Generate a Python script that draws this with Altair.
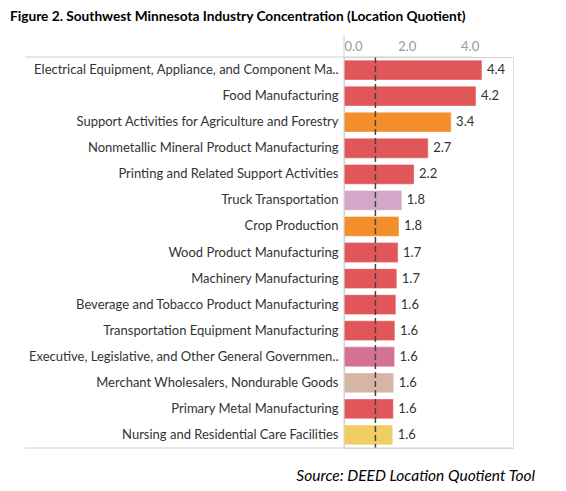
import altair as alt
import pandas as pd

industries = [
    "Electrical Equipment, Appliance, and Component Ma..",
    "Food Manufacturing",
    "Support Activities for Agriculture and Forestry",
    "Nonmetallic Mineral Product Manufacturing",
    "Printing and Related Support Activities",
    "Truck Transportation",
    "Crop Production",
    "Wood Product Manufacturing",
    "Machinery Manufacturing",
    "Beverage and Tobacco Product Manufacturing",
    "Transportation Equipment Manufacturing",
    "Executive, Legislative, and Other General Governmen..",
    "Merchant Wholesalers, Nondurable Goods",
    "Primary Metal Manufacturing",
    "Nursing and Residential Care Facilities",
]
lq = [4.39, 4.20, 3.41, 2.68, 2.23, 1.84, 1.75, 1.72, 1.68, 1.65, 1.62, 1.61, 1.58, 1.57, 1.55]
sector = [
    "Manufacturing", "Manufacturing", "Agriculture", "Manufacturing", "Manufacturing",
    "Transportation", "Agriculture", "Manufacturing", "Manufacturing", "Manufacturing",
    "Manufacturing", "Public Administration", "Wholesale Trade", "Manufacturing", "Health Care",
]
sector_names = ["Manufacturing", "Agriculture", "Transportation", "Public Administration", "Wholesale Trade", "Health Care"]
sector_colors = ["#E15759", "#F28E2B", "#D4A6C8", "#D37295", "#D7B5A6", "#F1CE63"]
reference_lq = [1.0]
source_text = "Source: DEED Location Quotient Tool"

df = pd.DataFrame({"industry": industries, "lq": lq, "sector": sector})
ref = pd.DataFrame({"ref": reference_lq})

W, H = 169, 391
FONT = "Lato"

x_scale = alt.Scale(domain=[0, 5.38], nice=False, zero=True)
y_enc = alt.Y("industry:N", sort=industries, title=None,
              scale=alt.Scale(paddingInner=0.24, paddingOuter=0.12),
              axis=alt.Axis(labelFont=FONT, labelFontSize=13, labelColor="#333333",
                            labelPadding=6, ticks=False, domain=True, domainColor="#D0D0D0",
                            labelLimit=330))

bars = alt.Chart(df).mark_bar(stroke="white", strokeOpacity=0.35, strokeWidth=1).encode(
    x=alt.X("lq:Q", scale=x_scale, title=None,
            axis=alt.Axis(orient="top", values=[0, 2, 4], format=".1f", labelFont=FONT,
                          labelFontSize=13, labelColor="#999999", ticks=False, grid=False,
                          domain=True, domainColor="#D0D0D0", labelFlush=True, labelPadding=4)),
    y=y_enc,
    color=alt.Color("sector:N", scale=alt.Scale(domain=sector_names, range=sector_colors), legend=None),
)

labels = alt.Chart(df).mark_text(align="left", baseline="middle", dx=5, font=FONT,
                                 fontSize=13, color="#333333").encode(
    x=alt.X("lq:Q", scale=x_scale),
    y=alt.Y("industry:N", sort=industries),
    text=alt.Text("lq:Q", format=".1f"),
)

refline = alt.Chart(ref).mark_rule(color="#444444", strokeWidth=1.5, strokeDash=[6, 3]).encode(
    x=alt.X("ref:Q", scale=x_scale),
)

line_df = pd.DataFrame({"k": [0]})
top_line = alt.Chart(line_df).mark_rule(color="#D0D0D0", strokeWidth=1).encode(
    x=alt.value(-319), x2=alt.value(129), y=alt.value(0))
bottom_line = alt.Chart(line_df).mark_rule(color="#D0D0D0", strokeWidth=1).encode(
    x=alt.value(-319), x2=alt.value(W), y=alt.value(H))
vert_line = alt.Chart(line_df).mark_rule(color="#D0D0D0", strokeWidth=1).encode(
    x=alt.value(0), y=alt.value(-22), y2=alt.value(H))

source = alt.Chart(pd.DataFrame({"t": [source_text]})).mark_text(
    align="right", baseline="middle", font="Lato", fontSize=15.5, fontStyle="italic", color="#000000"
).encode(x=alt.value(191), y=alt.value(419), text="t:N")

chart = alt.layer(bars, labels, refline, top_line, bottom_line, vert_line, source).properties(
    width=W, height=H,
    autosize=alt.AutoSizeParams(type="none"),
    padding={"left": 336, "top": 49, "right": 45, "bottom": 35},
    title=alt.TitleParams(
        "Figure 2. Southwest Minnesota Industry Concentration (Location Quotient)",
        anchor="start", frame="group", font="Lato", fontSize=13.7, fontWeight="bold",
        color="#000000", offset=11, dx=-334,
    ),
).configure_view(stroke=None).configure(background="white")

chart.save("out.html", embed_options={"renderer": "svg", "actions": False})
